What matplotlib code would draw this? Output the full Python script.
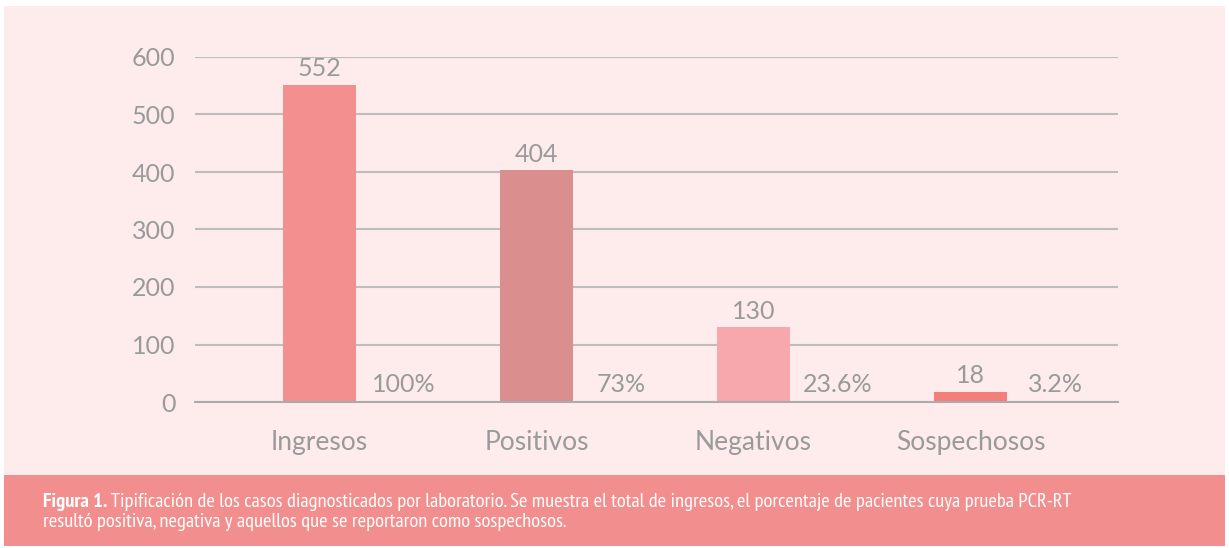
import matplotlib
matplotlib.use("Agg")
import matplotlib.pyplot as plt
from matplotlib.patches import Rectangle
from matplotlib import font_manager

categories = ["Ingresos", "Positivos", "Negativos", "Sospechosos"]
values = [552, 404, 130, 18]
percent_labels = ["100%", "73%", "23.6%", "3.2%"]
bar_colors = ["#f38f8f", "#db8e8e", "#f6a8ac", "#f47f7a"]
yticks = [0, 100, 200, 300, 400, 500, 600]
caption_bold = "Figura 1."
caption_line1 = (" Tipificación de los casos diagnosticados por laboratorio. Se muestra el total de ingresos, "
                 "el porcentaje de pacientes cuya prueba PCR-RT")
caption_line2 = "resultó positiva, negativa y aquellos que se reportaron como sospechosos."

names = {f.name for f in font_manager.fontManager.ttflist}
cap_font = "PT Sans Narrow" if "PT Sans Narrow" in names else "Liberation Sans"

W, H = 1229, 548
fig = plt.figure(figsize=(W / 100, H / 100), dpi=100)
fig.patch.set_facecolor("white")

# background panels
bg = fig.add_axes([0, 0, 1, 1])
bg.set_xlim(0, W)
bg.set_ylim(H, 0)
bg.axis("off")
bg.add_patch(Rectangle((4, 6), 1221, 469, facecolor="#fdeceb", edgecolor="none"))
bg.add_patch(Rectangle((4, 475), 1221, 71, facecolor="#f28f8e", edgecolor="none"))

gray = "#9a9a9a"
ax = fig.add_axes([195 / W, 146 / H, 923 / W, 345 / H])
ax.set_facecolor("none")
x = list(range(len(categories)))
ax.bar(x, values, width=0.336, color=bar_colors, zorder=3)
ax.set_xlim(-0.574, 3.68)
ax.set_ylim(0, 600)
ax.set_yticks(yticks)
ax.set_yticklabels([str(t) for t in yticks])
ax.set_xticks(x)
ax.set_xticklabels(categories)
ax.tick_params(axis="both", length=0, labelcolor=gray)
ax.tick_params(axis="y", pad=14, labelsize=18)
ax.tick_params(axis="x", pad=20, labelsize=19)
for lab in ax.get_xticklabels() + ax.get_yticklabels():
    lab.set_fontfamily("Lato")
ax.grid(axis="y", color="#bdbdbd", linewidth=1.5, zorder=0)
for s in ["top", "right", "left"]:
    ax.spines[s].set_visible(False)
ax.spines["bottom"].set_color("#ababab")
ax.spines["bottom"].set_linewidth(1.5)
ax.spines["bottom"].set_zorder(4)

for xi, v, p in zip(x, values, percent_labels):
    ax.annotate(str(v), (xi, v), xytext=(0, 3), textcoords="offset points",
                ha="center", va="bottom", fontsize=18, color=gray, family="Lato")
    ax.annotate(p, (xi + 0.39, 0), xytext=(0, 7), textcoords="offset points",
                ha="center", va="baseline", fontsize=18, color=gray, family="Lato")

# caption, sized so the first line spans the same width as in the reference
fig.canvas.draw()
renderer = fig.canvas.get_renderer()
fs = 13.0
t1 = bg.text(43, 507, caption_bold, color="white", fontsize=fs, fontweight="bold",
             family=cap_font, va="baseline", ha="left")
t2 = bg.text(43, 507, caption_line1, color="white", fontsize=fs, family=cap_font,
             va="baseline", ha="left")
w1 = t1.get_window_extent(renderer).width
w2 = t2.get_window_extent(renderer).width
scale = 1021.0 / (w1 + w2)
fs = fs * scale
t1.set_fontsize(fs)
t2.set_fontsize(fs)
w1 = t1.get_window_extent(renderer).width
t2.set_x(43 + w1)
t3 = bg.text(43, 527, caption_line2, color="white", fontsize=fs, family=cap_font,
             va="baseline", ha="left")

fig.savefig("out.png", dpi=100, facecolor="white")
